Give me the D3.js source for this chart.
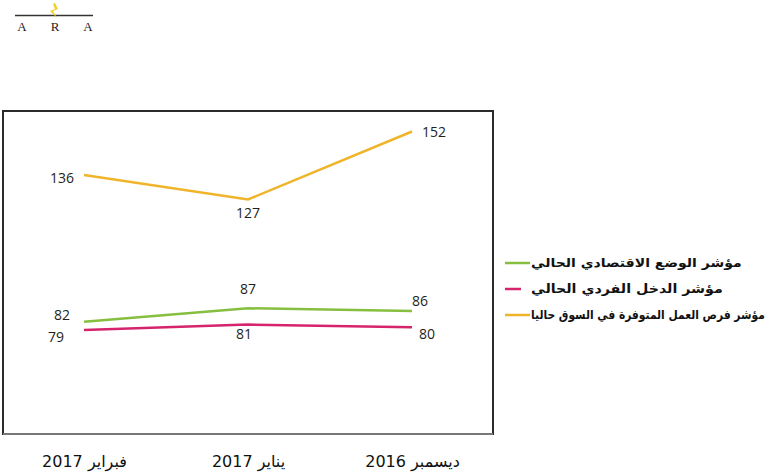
<!DOCTYPE html>
<html><head><meta charset="utf-8">
<script src="https://cdn.jsdelivr.net/npm/d3@7/dist/d3.min.js"></script>
<style>
html,body{margin:0;padding:0;background:#fff;}
svg{display:block;}
</style></head>
<body>
<script>
// ---- data ----
const months = ["ديسمبر  2016", "يناير 2017", "فبراير 2017"];
const seriesNames = [
  "مؤشر الوضع الاقتصادي الحالي",
  "مؤشر الدخل الفردي الحالي",
  "مؤشر فرص العمل المتوفرة في السوق حاليا"
];
const economicValues = [86, 87, 82];
const incomeValues = [80, 81, 79];
const jobsValues = [152, 127, 136];
const seriesValues = [economicValues, incomeValues, jobsValues];
const colors = ["#86bf3f", "#d5246c", "#f0b42a"];

// ---- layout (styles/offsets) ----
const W = 770, H = 475;
const svg = d3.select("body").append("svg").attr("width", W).attr("height", H);

const x = d3.scalePoint().domain(months).range([412, 84]);
const y = d3.scaleLinear().domain([79, 152]).range([330, 131.5]);

// frame
svg.append("rect").attr("x", 3).attr("y", 111).attr("width", 490).attr("height", 323)
  .attr("fill", "none").attr("stroke", "#2b2b2b").attr("stroke-width", 2);
svg.append("line").attr("x1", 3).attr("x2", 493).attr("y1", 434).attr("y2", 434)
  .attr("stroke", "#777").attr("stroke-width", 2);

// logo
const logo = svg.append("g");
logo.append("line").attr("x1", 15).attr("x2", 93).attr("y1", 15.5).attr("y2", 15.5)
  .attr("stroke", "#333").attr("stroke-width", 1.3);
logo.append("path").attr("d", "M55,3 L58,9 L53,11 L57,18 L50,11 L55,9 L53,4 Z").attr("fill", "#f2cf26");
["A", "R", "A"].forEach((c, i) => {
  logo.append("text").attr("x", 22 + i * 33).attr("y", 31).attr("text-anchor", "middle")
    .attr("font-family", "Liberation Serif, DejaVu Serif, serif").attr("font-size", 13)
    .attr("fill", "#222").text(c);
});

// lines
const line = d3.line().x((d, i) => x(months[i])).y(d => y(d));
seriesValues.forEach((vals, s) => {
  svg.append("path").datum(vals).attr("d", line).attr("fill", "none")
    .attr("stroke", colors[s]).attr("stroke-width", 2.5);
});

// data labels: [dx, dy, anchor] per series per point
const labelPlace = [
  [[0, -5, "start"], [0, -14, "middle"], [-14, -2, "end"]],
  [[7, 12, "start"], [-4, 14, "middle"], [-20, 12, "end"]],
  [[10, 5, "start"], [0, 19, "middle"], [-10, 8, "end"]]
];
seriesValues.forEach((vals, s) => {
  vals.forEach((v, i) => {
    const p = labelPlace[s][i];
    svg.append("text").attr("x", x(months[i]) + p[0]).attr("y", y(v) + p[1])
      .attr("text-anchor", p[2]).attr("font-family", "Open Sans, sans-serif")
      .attr("font-size", 14).attr("fill", "#231f20").text(v);
  });
});

// x axis labels
const axis = svg.append("g").attr("transform", "translate(0,456)")
  .call(d3.axisBottom(x).tickSize(0).tickPadding(0));
axis.select(".domain").remove();
axis.selectAll("text").attr("font-family", "DejaVu Sans, sans-serif").attr("font-size", 16)
  .attr("fill", "#111").attr("direction", "rtl").attr("text-anchor", "middle")
  .style("unicode-bidi", "plaintext");

// legend
const legendY = [263, 289, 315];
const legendWidths = [211, 192, 234];
seriesNames.forEach((name, s) => {
  svg.append("line").attr("x1", 505).attr("x2", s === 1 ? 521 : 530)
    .attr("y1", legendY[s]).attr("y2", legendY[s])
    .attr("stroke", colors[s]).attr("stroke-width", 2.5);
  const g = svg.append("g");
  const t = g.append("text").attr("x", 0).attr("y", 0)
    .attr("direction", "rtl").attr("text-anchor", "end")
    .attr("font-family", "DejaVu Sans, sans-serif").attr("font-weight", "bold")
    .attr("font-size", 12.5).attr("fill", "#111").text(name);
  const w = t.node().getComputedTextLength();
  g.attr("transform", `translate(531,${legendY[s] + 4}) scale(${legendWidths[s] / w},1)`);
});
</script>
</body></html>
